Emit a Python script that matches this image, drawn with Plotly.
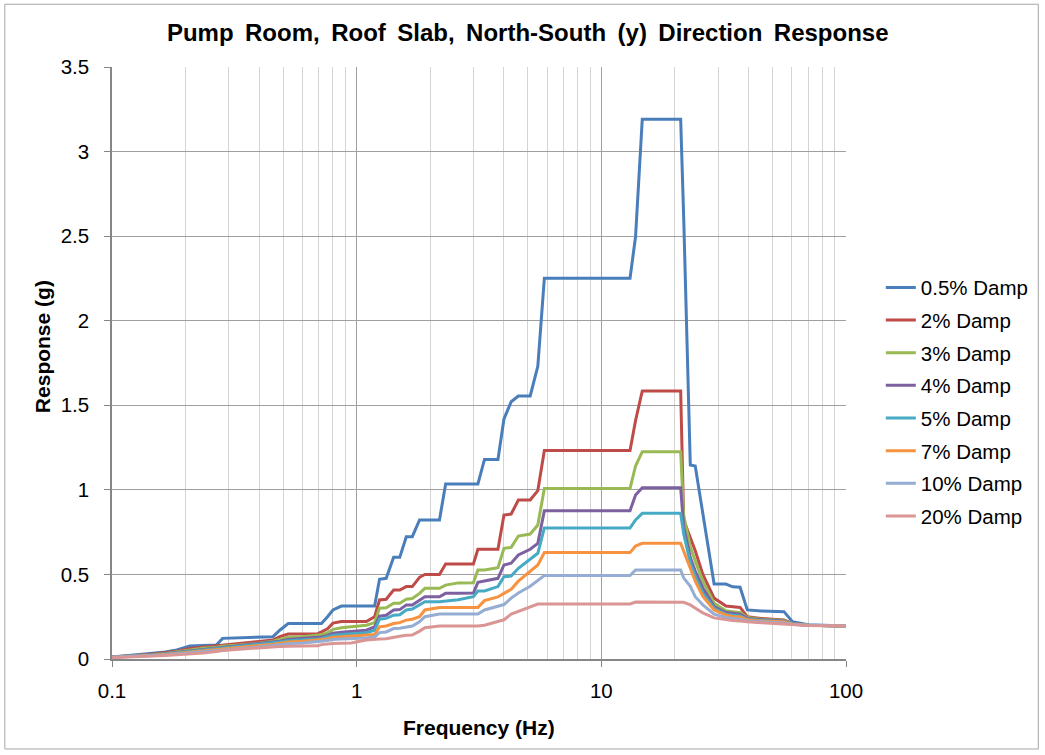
import plotly.graph_objects as go

freq_hz = [0.1, 0.12, 0.143, 0.165, 0.184, 0.208, 0.235, 0.267, 0.283, 0.33,
           0.39, 0.455, 0.485, 0.525, 0.6, 0.694, 0.718, 0.76, 0.8, 0.866,
           0.95, 1.095, 1.184, 1.24, 1.32, 1.416, 1.5, 1.595, 1.688, 1.807,
           1.9, 2.18, 2.31, 2.6, 3.0, 3.13, 3.33, 3.78, 4.0, 4.28,
           4.58, 5.12, 5.5, 5.85, 13.1, 13.8, 14.7, 21.1, 21.7, 23.1,
           24.2, 26, 28.9, 32.3, 34.4, 36.9, 39.5, 45, 55.8, 60.4, 70, 100]

damp_0_5 = [0.012, 0.02, 0.032, 0.042, 0.053, 0.077, 0.08, 0.083, 0.122, 0.124,
            0.126, 0.132, 0.17, 0.21, 0.21, 0.21, 0.21, 0.25, 0.29, 0.313,
            0.313, 0.313, 0.313, 0.471, 0.477, 0.601, 0.601, 0.723, 0.723, 0.822,
            0.822, 0.822, 1.035, 1.035, 1.035, 1.035, 1.18, 1.18, 1.419, 1.521,
            1.555, 1.555, 1.73, 2.251, 2.251, 2.497, 3.191, 3.191, 2.62, 1.147,
            1.141, 0.858, 0.443, 0.443, 0.427, 0.424, 0.29, 0.284, 0.28, 0.221, 0.203, 0.195]

damp_2 = [0.013, 0.018, 0.028, 0.036, 0.046, 0.062, 0.07, 0.076, 0.082, 0.09,
          0.1, 0.112, 0.132, 0.148, 0.148, 0.15, 0.16, 0.178, 0.212, 0.222,
          0.222, 0.222, 0.25, 0.349, 0.353, 0.408, 0.408, 0.428, 0.428, 0.483,
          0.5, 0.5, 0.562, 0.562, 0.562, 0.649, 0.649, 0.649, 0.851, 0.857,
          0.94, 0.94, 0.995, 1.232, 1.232, 1.41, 1.585, 1.585, 0.822, 0.723,
          0.64, 0.5, 0.36, 0.313, 0.31, 0.305, 0.25, 0.24, 0.23, 0.21, 0.2, 0.195]

damp_3 = [0.012, 0.017, 0.025, 0.033, 0.042, 0.056, 0.064, 0.07, 0.075, 0.083,
          0.092, 0.105, 0.115, 0.128, 0.132, 0.138, 0.143, 0.155, 0.175, 0.185,
          0.19, 0.2, 0.215, 0.3, 0.303, 0.33, 0.33, 0.353, 0.358, 0.388,
          0.418, 0.418, 0.437, 0.45, 0.451, 0.526, 0.526, 0.54, 0.654, 0.66,
          0.727, 0.739, 0.792, 1.008, 1.008, 1.141, 1.226, 1.226, 0.85, 0.664,
          0.58, 0.46, 0.33, 0.285, 0.28, 0.275, 0.245, 0.235, 0.228, 0.21, 0.2, 0.195]

damp_4 = [0.012, 0.016, 0.024, 0.031, 0.038, 0.05, 0.057, 0.065, 0.07, 0.078,
          0.088, 0.098, 0.105, 0.115, 0.12, 0.125, 0.13, 0.14, 0.152, 0.158,
          0.162, 0.17, 0.19, 0.254, 0.259, 0.29, 0.292, 0.319, 0.319, 0.349,
          0.368, 0.368, 0.388, 0.388, 0.39, 0.453, 0.46, 0.477, 0.556, 0.566,
          0.615, 0.649, 0.684, 0.877, 0.877, 0.97, 1.013, 1.013, 0.782, 0.6,
          0.52, 0.42, 0.31, 0.275, 0.27, 0.265, 0.24, 0.232, 0.225, 0.208, 0.2, 0.195]

damp_5 = [0.012, 0.016, 0.022, 0.029, 0.036, 0.045, 0.052, 0.06, 0.065, 0.073,
          0.083, 0.093, 0.1, 0.108, 0.112, 0.118, 0.122, 0.13, 0.14, 0.145,
          0.148, 0.155, 0.17, 0.235, 0.24, 0.259, 0.262, 0.29, 0.295, 0.319,
          0.339, 0.339, 0.342, 0.35, 0.368, 0.402, 0.402, 0.428, 0.487, 0.49,
          0.536, 0.589, 0.625, 0.775, 0.775, 0.822, 0.861, 0.861, 0.74, 0.57,
          0.49, 0.39, 0.30, 0.265, 0.26, 0.255, 0.235, 0.228, 0.222, 0.207, 0.2, 0.195]

damp_7 = [0.011, 0.015, 0.02, 0.027, 0.033, 0.04, 0.048, 0.055, 0.06, 0.068,
          0.078, 0.088, 0.093, 0.1, 0.105, 0.11, 0.115, 0.12, 0.128, 0.132,
          0.135, 0.14, 0.145, 0.19, 0.195, 0.21, 0.215, 0.23, 0.235, 0.25,
          0.29, 0.305, 0.305, 0.305, 0.305, 0.305, 0.345, 0.367, 0.388, 0.412,
          0.46, 0.52, 0.556, 0.629, 0.629, 0.668, 0.684, 0.684, 0.64, 0.53,
          0.46, 0.37, 0.29, 0.26, 0.252, 0.248, 0.232, 0.225, 0.22, 0.206, 0.2, 0.195]

damp_10 = [0.01, 0.014, 0.018, 0.024, 0.03, 0.036, 0.043, 0.05, 0.055, 0.062,
           0.07, 0.08, 0.085, 0.09, 0.095, 0.1, 0.105, 0.11, 0.115, 0.118,
           0.12, 0.124, 0.13, 0.156, 0.16, 0.18, 0.182, 0.19, 0.195, 0.22,
           0.25, 0.266, 0.266, 0.266, 0.266, 0.266, 0.29, 0.315, 0.322, 0.36,
           0.39, 0.43, 0.465, 0.493, 0.493, 0.526, 0.526, 0.526, 0.48, 0.43,
           0.368, 0.32, 0.265, 0.245, 0.24, 0.235, 0.225, 0.22, 0.213, 0.205, 0.2, 0.195]

damp_20 = [0.008, 0.011, 0.015, 0.02, 0.025, 0.03, 0.036, 0.045, 0.05, 0.058,
           0.066, 0.072, 0.074, 0.075, 0.075, 0.078, 0.085, 0.09, 0.092, 0.093,
           0.095, 0.112, 0.113, 0.118, 0.12, 0.13, 0.135, 0.14, 0.142, 0.165,
           0.185, 0.195, 0.195, 0.195, 0.195, 0.195, 0.2, 0.222, 0.232, 0.265,
           0.28, 0.305, 0.325, 0.325, 0.325, 0.337, 0.337, 0.337, 0.335, 0.32,
           0.30, 0.272, 0.243, 0.232, 0.228, 0.225, 0.22, 0.215, 0.207, 0.2, 0.198, 0.195]

series_names = ["0.5% Damp", "2% Damp", "3% Damp", "4% Damp",
                "5% Damp", "7% Damp", "10% Damp", "20% Damp"]
series_values = [damp_0_5, damp_2, damp_3, damp_4, damp_5, damp_7, damp_10, damp_20]
series_colors = ["#4A7EBB", "#BE4B48", "#98B954", "#7D60A0",
                 "#46AAC5", "#F69240", "#95ADD3", "#DA9694"]

x_tickvals = [0.1, 1, 10, 100]
x_ticktext = ["0.1", "1", "10", "100"]
y_tickvals = [0, 0.5, 1, 1.5, 2, 2.5, 3, 3.5]
y_ticktext = ["0", "0.5", "1", "1.5", "2", "2.5", "3", "3.5"]

FONT = "Liberation Sans, Arial, sans-serif"
title_text = "Pump\u2009 Room,\u2009 Roof\u2009 Slab,\u2009 North-South\u2009 (y)\u2009 Direction\u2009 Response"

fig = go.Figure()
for name, vals, col in zip(series_names, series_values, series_colors):
    fig.add_trace(go.Scatter(
        x=freq_hz, y=vals, mode="lines", name=name, legendgroup=name,
        line=dict(color=col, width=3), hoverinfo="skip"))

fig.update_layout(
    width=1045, height=755,
    margin=dict(l=112, r=198, t=67, b=96),
    paper_bgcolor="white", plot_bgcolor="white",
    font=dict(family=FONT, color="black", size=20),
    title=dict(text="<b>" + title_text + "</b>",
               x=0.505, xref="container", xanchor="center",
               y=0.957, yref="container", yanchor="middle",
               font=dict(family=FONT, size=24, color="black")),
    showlegend=True,
    legend=dict(x=1.046, xanchor="left", y=0.434, yanchor="middle",
                font=dict(family=FONT, size=20.5, color="black"),
                tracegroupgap=3, bgcolor="rgba(0,0,0,0)", itemwidth=30),
    shapes=[dict(type="rect", xref="paper", yref="paper",
                 x0=-0.146, x1=1.262, y0=-0.152, y1=1.106,
                 line=dict(color="#A6A6A6", width=1), layer="below")],
    annotations=[
        dict(text="<b>Response (g)</b>", xref="paper", yref="paper",
             x=-0.0952, y=0.527, xanchor="center", yanchor="middle",
             textangle=-90, showarrow=False,
             font=dict(family=FONT, size=21, color="black")),
        dict(text="<b>Frequency (Hz)</b>", xref="paper", yref="paper",
             x=0.5, y=-0.1149, xanchor="center", yanchor="middle",
             showarrow=False, font=dict(family=FONT, size=21, color="black")),
    ],
)

fig.update_xaxes(
    type="log", range=[-1, 2],
    tickvals=x_tickvals, ticktext=x_ticktext,
    showgrid=True, gridcolor="#A0A0A0", gridwidth=1,
    showline=True, linecolor="#868686", linewidth=1.5,
    ticks="outside", ticklen=6, tickcolor="#868686",
    tickfont=dict(family=FONT, size=20.5), ticklabelstandoff=7,
    minor=dict(showgrid=True, gridcolor="#D4D4D4", gridwidth=1, dtick="D1", ticks=""),
    zeroline=False, mirror=False,
)
fig.update_yaxes(
    range=[0, 3.5],
    tickvals=y_tickvals, ticktext=y_ticktext,
    showgrid=True, gridcolor="#A0A0A0", gridwidth=1,
    showline=True, linecolor="#868686", linewidth=1.5,
    ticks="outside", ticklen=6, tickcolor="#868686",
    tickfont=dict(family=FONT, size=20.5), ticklabelstandoff=11,
    zeroline=False,
)

fig.write_html("out.html")
